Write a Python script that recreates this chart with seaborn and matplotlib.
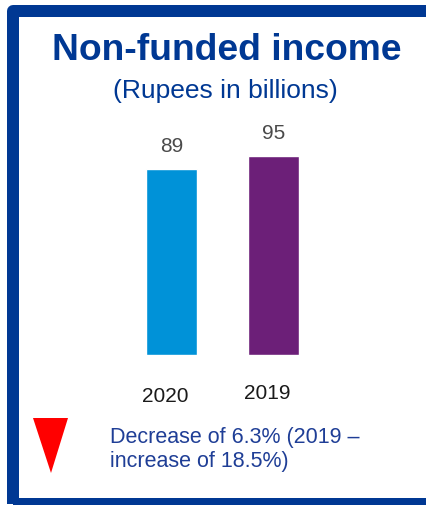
import matplotlib
matplotlib.use("Agg")
import matplotlib.pyplot as plt
import matplotlib.transforms as mtransforms
import seaborn as sns
import pandas as pd
from matplotlib.patches import Rectangle, Polygon

years = ["2020", "2019"]
values = [89, 95]
bar_colors = ["#0092D8", "#6C1F78"]
title = "Non-funded income"
subtitle = "(Rupees in billions)"
note_lines = ["Decrease of 6.3% (2019 \u2013", "increase of 18.5%)"]

sns.set_theme(style="white")
plt.rcParams['font.family'] = ['Liberation Sans', 'DejaVu Sans']

W, H = 427, 505
fig = plt.figure(figsize=(W / 100, H / 100), dpi=100)
fig.patch.set_facecolor("white")

def fx(px):
    return px / W

def fy(py):
    return 1 - py / H

# bar axes
ax = fig.add_axes([fx(120.5), fy(355), 204 / W, 209 / H])
df = pd.DataFrame({"year": years, "value": values})
sns.barplot(data=df, x="year", y="value", hue="year", palette=bar_colors,
            width=0.5, legend=False, ax=ax, saturation=1)
ax.set_xlim(-0.5, 1.5)
ax.set_ylim(0, 100)
ax.set_xlabel("")
ax.set_ylabel("")
ax.set_yticks([])
for s in ax.spines.values():
    s.set_visible(False)
ax.set_facecolor("none")
ax.tick_params(axis="x", length=0, pad=22, labelsize=15, labelcolor="#1a1a1a")
# small individual offsets of the tick labels (in pixels)
offs = [(-6, -1.5), (-6, 1.5)]
for lab, (dx, dy) in zip(ax.get_xticklabels(), offs):
    lab.set_transform(lab.get_transform() +
                      mtransforms.ScaledTranslation(dx / 100, dy / 100, fig.dpi_scale_trans))
for c in ax.containers:
    labs = ax.bar_label(c, padding=9.5, fontsize=15, color="#4a4a4a")
    for t in labs:
        t.set_clip_on(False)

border = "#003893"
fig.text(fx(226.5), fy(60), title, ha="center", va="baseline",
         fontsize=26.8, fontweight="bold", color=border)
fig.text(fx(225), fy(98), subtitle, ha="center", va="baseline",
         fontsize=19, color=border)
fig.text(fx(110), fy(443), note_lines[0], ha="left", va="baseline",
         fontsize=15.5, color="#1F3E96")
fig.text(fx(110), fy(467), note_lines[1], ha="left", va="baseline",
         fontsize=15.5, color="#1F3E96")

# red down triangle
tri = Polygon([(fx(33), fy(418)), (fx(68), fy(418)), (fx(51), fy(473))],
              closed=True, transform=fig.transFigure, facecolor="#FF0000",
              edgecolor="none")
fig.patches.append(tri)

# frame
lw_pt = 12 * 72 / 100
rect = Rectangle((fx(13), fy(504)), fx(431) - fx(13), fy(11) - fy(504),
                 transform=fig.transFigure, fill=False, edgecolor=border,
                 linewidth=lw_pt, joinstyle="round", clip_on=False)
fig.patches.append(rect)

fig.savefig("out.png", dpi=100)
